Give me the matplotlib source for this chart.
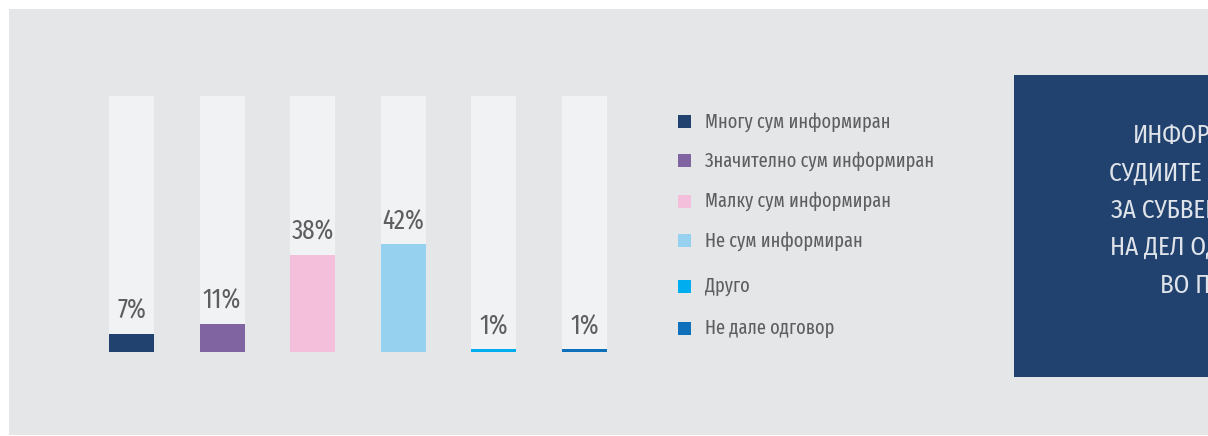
import matplotlib
matplotlib.use("Agg")
import matplotlib.pyplot as plt
from matplotlib.patches import Rectangle

plt.rcParams['font.family'] = ['Fira Sans Extra Condensed', 'DejaVu Sans']

# data
categories = ['Многу сум информиран', 'Значително сум информиран', 'Малку сум информиран',
              'Не сум информиран', 'Друго', 'Не дале одговор']
values = [7, 11, 38, 42, 1, 1]
colors = ['#21426e', '#8064a2', '#f4bfdb', '#96d1f0', '#00aeef', '#0e70bb']
box_lines = ['ИНФОРМИРАНОСТ', 'СУДИИТЕ ЗА', 'ЗА СУБВЕНЦИИ', 'НА ДЕЛ ОД', 'ВО ПОСТАПКАТА']

W, H = 1208, 436
fig = plt.figure(figsize=(W / 100, H / 100), dpi=100)
fig.patch.set_facecolor('white')

def fx(px):
    return px / W

def fy(py):
    return 1 - py / H

# grey panel
fig.add_artist(Rectangle((fx(9), fy(435)), fx(W - 9), (435 - 9) / H,
                         transform=fig.transFigure, facecolor='#e5e6e8', edgecolor='none', zorder=0))

# bars
step = 90.6
left = 131.5 - step / 2
ax = fig.add_axes([fx(left), fy(352), fx(6 * step), 256 / H])
ax.set_facecolor('none')
x = list(range(len(values)))
ax.bar(x, [100] * len(values), width=45 / step, color='#f1f2f4', zorder=1)
ax.bar(x, values, width=45 / step, color=colors, zorder=2)
for xi, v in zip(x, values):
    ax.annotate(f'{v}%', (xi, v), xytext=(0, 7), textcoords='offset points',
                ha='center', va='bottom', fontsize=19.5, color='#5d5e60', zorder=3)
ax.set_xlim(-0.5, 5.5)
ax.set_ylim(0, 100)
ax.axis('off')

# legend
rows = [122, 161, 201, 241, 286, 328]
for lab, c, r in zip(categories, colors, rows):
    fig.add_artist(Rectangle((fx(678), fy(r + 6.5)), fx(13), 13 / H,
                             transform=fig.transFigure, facecolor=c, edgecolor='none'))
    fig.text(fx(705), fy(r), lab, ha='left', va='center', fontsize=14.3, color='#5d5e60')

# dark box on the right (text runs past the edge, as in the source)
fig.add_artist(Rectangle((fx(1014), fy(377)), fx(300), (377 - 75) / H,
                         transform=fig.transFigure, facecolor='#21426e', edgecolor='none'))
starts = [1133, 1109, 1111, 1110, 1160]
bases = [143, 181, 218, 255, 293]
for t, sx, b in zip(box_lines, starts, bases):
    fig.text(fx(sx), fy(b), t, family='Fira Sans Condensed', ha='left', va='baseline',
             fontsize=18, fontweight='normal', color='#dfe3ea')

fig.savefig('out.png', dpi=100, facecolor=fig.get_facecolor())
